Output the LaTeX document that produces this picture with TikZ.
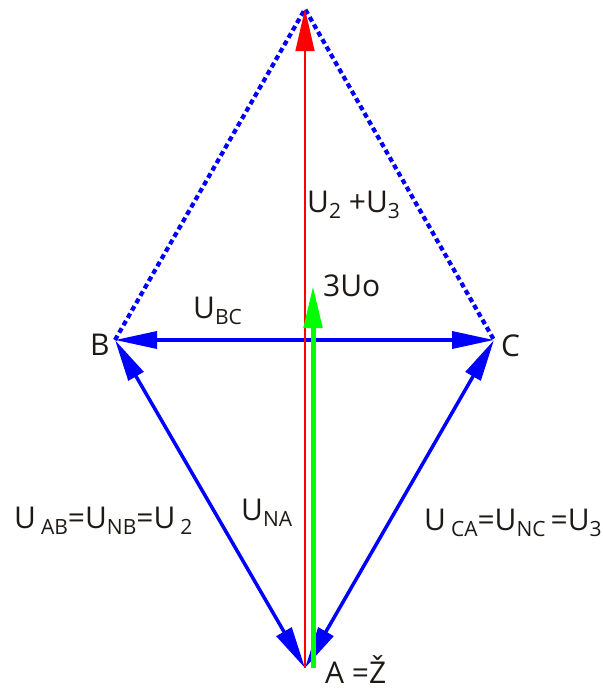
\documentclass[tikz,border=0pt]{standalone}
\usepackage{fontspec}
\setmainfont{Open Sans}
\usetikzlibrary{arrows.meta}
\definecolor{phblue}{RGB}{0,0,255}
\definecolor{phgreen}{RGB}{0,255,0}
\definecolor{phred}{RGB}{255,0,0}
\definecolor{txt}{RGB}{30,25,20}
\tikzset{phasor/.style = {phblue, line width=3.5pt,
                          {Triangle[length=42pt,width=17pt]}-{Triangle[length=42pt,width=17pt]}}}
\tikzset{dashline/.style = {phblue, line width=4.2pt, dash pattern=on 5pt off 3.5pt}}
\tikzset{lbl/.style = {txt, inner sep=0, font=\fontsize{30}{30}\selectfont}}
\newcommand{\sbs}[1]{\raisebox{-0.22em}{\fontsize{21}{21}\selectfont #1}}

\begin{document}
\begin{tikzpicture}[x=1pt,y=-1pt]
      \useasboundingbox (0,0) rectangle (603,689);
      \coordinate (T) at (305,9);
      \coordinate (B) at (115,340);
      \coordinate (C) at (494,340);
      \coordinate (A) at (305,668);
      \coordinate (G0) at (313,668);
      \coordinate (G1) at (313,286);

      \draw[dashline] (B) -- (T) -- (C);
      \draw[phasor] (B) -- (C);
      \draw[phasor] (B) -- (A);
      \draw[phasor] (C) -- (A);
      \draw[phred, line width=1.3pt, -{Triangle[length=42pt,width=19pt]}] (A) -- (T);
      \draw[phgreen, line width=5pt, -{Triangle[length=42pt,width=18pt]}] (G0) -- (G1);

      \node[lbl, anchor=base west] (lB) at (90,355) {B};
      \node[lbl, anchor=base west] (lC) at (501,356) {C};
      \node[lbl, anchor=base west] (lA) at (325,683) {A =Ž};
      \node[lbl, anchor=base west] (lBC) at (193,318) {U\sbs{BC}};
      \node[lbl, anchor=base west] (lsum) at (307,212) {U\sbs{2} +U\sbs{3}};
      \node[lbl, anchor=base west] (l0) at (323,296) {3Uo};
      \node[lbl, anchor=base west] (lNA) at (241,520) {U\sbs{NA}};
      \node[lbl, anchor=base west] (lAB) at (14,528) {U\,\sbs{AB}=U\sbs{NB}=U\,\sbs{2}};
      \node[lbl, anchor=base west] (lCA) at (424,530) {U\,\sbs{CA}=U\sbs{NC}\,=U\sbs{3}};
    \end{tikzpicture}
\end{document}
